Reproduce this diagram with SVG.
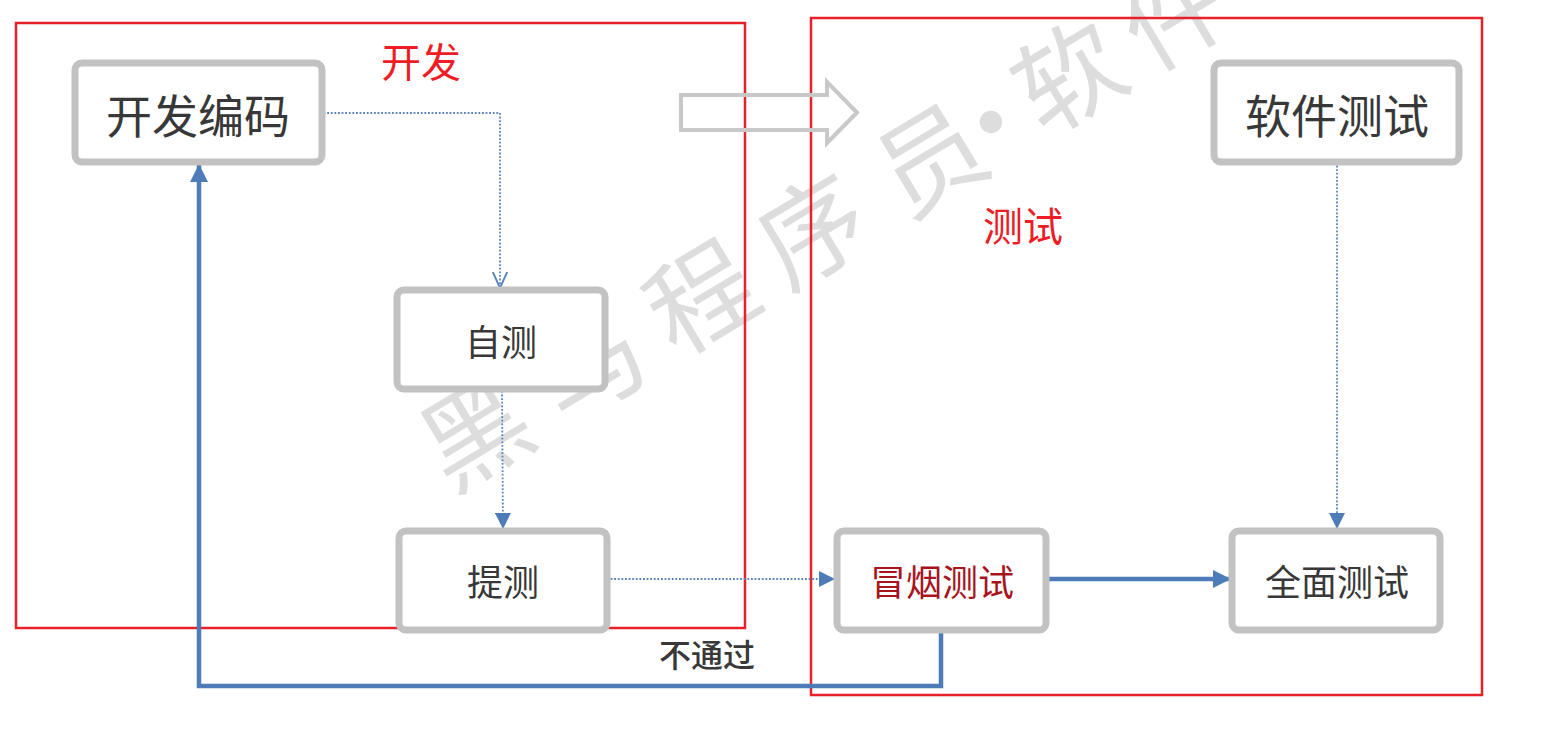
<svg xmlns="http://www.w3.org/2000/svg" width="1542" height="754" viewBox="0 0 1542 754">
<style>
.wm{font-family:"Noto Sans CJK SC","Noto Sans",sans-serif;font-size:106px;font-weight:400;fill:#dddddd;text-anchor:middle;dominant-baseline:central}
.frame{fill:none;stroke:#e8202a;stroke-width:2.5}
.title{font-family:"Noto Sans CJK SC","Noto Sans",sans-serif;font-size:40px;fill:#ee1c25;text-anchor:middle;dominant-baseline:central}
.box{fill:#fff;stroke:#c2c2c2;stroke-width:7}
.lbl{font-family:"Noto Sans CJK SC","Noto Sans",sans-serif;fill:#383838;text-anchor:middle;dominant-baseline:central}
.big{font-size:46px}
.mid{font-size:36px}
.dot{fill:none;stroke:#5a84bb;stroke-width:1.8;stroke-dasharray:1.8 1.8}
.solid{fill:none;stroke:#4d7cb8;stroke-width:4.5}
</style>
<defs>
<marker id="triS" viewBox="0 0 10 10" refX="10" refY="5" markerWidth="16" markerHeight="16" markerUnits="userSpaceOnUse" orient="auto">
<path d="M0,0 L10,5 L0,10 z" fill="#4d7cb8"/>
</marker>
<marker id="triB" viewBox="0 0 10 10" refX="10" refY="5" markerWidth="22" markerHeight="18" markerUnits="userSpaceOnUse" orient="auto">
<path d="M0,0 L10,5 L0,10 z" fill="#4d7cb8"/>
</marker>
<marker id="open" viewBox="0 0 10 10" refX="10" refY="5" markerWidth="16" markerHeight="16" markerUnits="userSpaceOnUse" orient="auto">
<path d="M0,0.5 L10,5 L0,9.5" fill="none" stroke="#5a84bb" stroke-width="1.2"/>
</marker>
</defs>
<rect width="1542" height="754" fill="#fff"/>
<text class="wm" transform="translate(472,427) rotate(-31)" x="0 132 263 393 531 602 692 816" y="0">黑马程序员·软件</text>
<g id="frames">
<rect class="frame" x="16" y="23" width="729" height="605"/>
<rect class="frame" x="811" y="18" width="671" height="677"/>
<text class="title" x="421" y="60">开发</text>
<text class="title" x="1023" y="224">测试</text>
</g>
<g id="bigarrow">
<path d="M681,95 L827,95 L827,82 L857,112.5 L827,143 L827,130 L681,130 Z" fill="none" stroke="#c8c8c8" stroke-width="4" stroke-linejoin="miter"/>
</g>
<g id="connectors">
<path class="dot" d="M320,113 L500,113 L500,288" marker-end="url(#open)"/>
<path class="dot" d="M502,391 L503,529" marker-end="url(#triS)"/>
<path class="dot" d="M607,579 L835,579" marker-end="url(#triS)"/>
<path class="dot" d="M1337,162 L1337,529" marker-end="url(#triS)"/>
<path class="solid" d="M1048,579 L1231,579" marker-end="url(#triB)"/>
<path class="solid" d="M941,632 L941,686 L199,686 L199,164" marker-end="url(#triB)"/>
<text class="lbl" x="707" y="653" style="font-size:32px;font-weight:500">不通过</text>
</g>
<g id="n-kaifa">
<rect class="box" x="75" y="63" width="247" height="99" rx="7"/>
<text class="lbl big" x="198" y="113">开发编码</text>
</g>
<g id="n-zice">
<rect class="box" x="397" y="290" width="208" height="99" rx="7"/>
<text class="lbl mid" x="501" y="340">自测</text>
</g>
<g id="n-tice">
<rect class="box" x="399" y="531" width="208" height="99" rx="7"/>
<text class="lbl mid" x="503" y="580">提测</text>
</g>
<g id="n-maoyan">
<rect class="box" x="837" y="531" width="209" height="99" rx="7"/>
<text class="lbl mid" x="942" y="580" style="fill:#a8141c">冒烟测试</text>
</g>
<g id="n-quanmian">
<rect class="box" x="1232" y="531" width="208" height="99" rx="7"/>
<text class="lbl mid" x="1337" y="580">全面测试</text>
</g>
<g id="n-ruanjian">
<rect class="box" x="1214" y="63" width="245" height="99" rx="7"/>
<text class="lbl big" x="1337" y="113">软件测试</text>
</g>
</svg>
